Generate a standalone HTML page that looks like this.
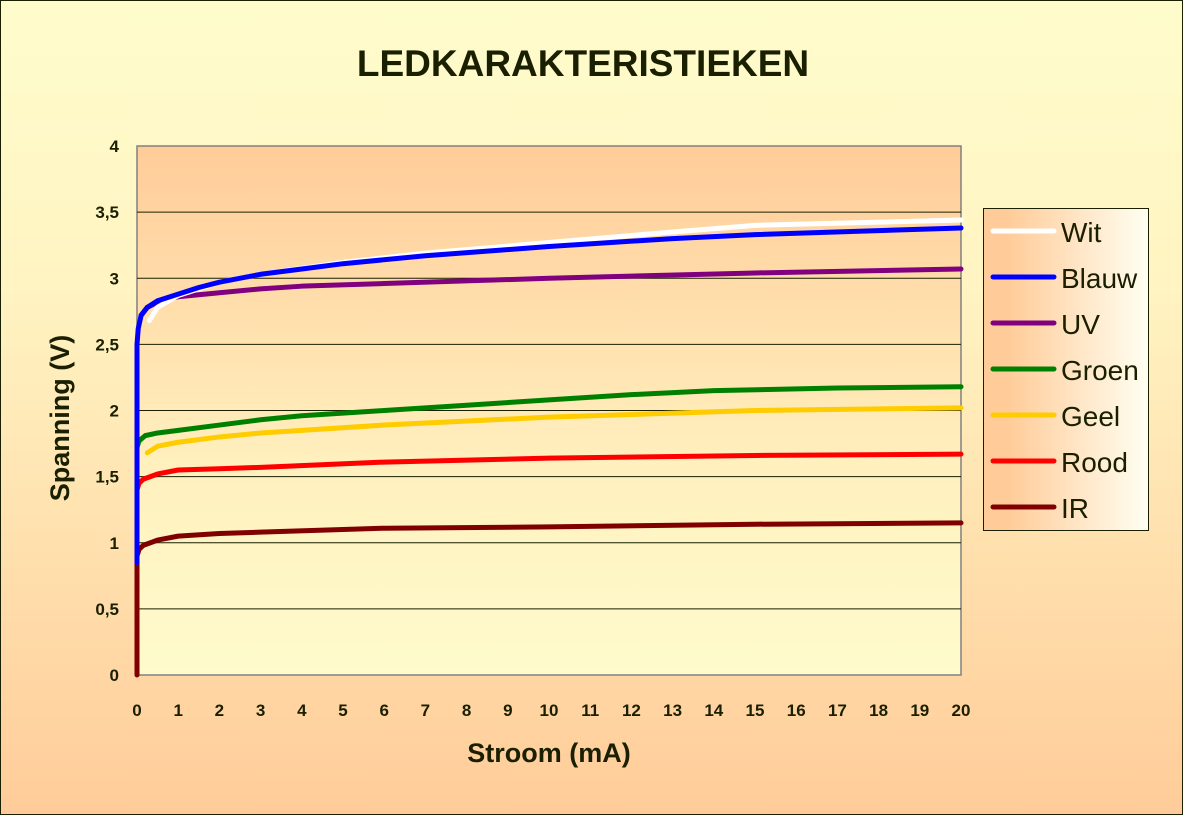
<!DOCTYPE html>
<html><head><meta charset="utf-8"><style>
body{margin:0;width:1183px;height:815px;overflow:hidden;}
svg text{font-family:"Liberation Sans",Arial,sans-serif;fill:#1a1f00;}
</style></head><body>
<svg width="1183" height="815" xmlns="http://www.w3.org/2000/svg">
<defs>
<linearGradient id="bg" x1="0" y1="0" x2="0" y2="1"><stop offset="0" stop-color="#FFFCCC"/><stop offset="0.35" stop-color="#FFF4C2"/><stop offset="1" stop-color="#FFCC99"/></linearGradient>
<linearGradient id="pa" x1="0" y1="0" x2="0" y2="1"><stop offset="0" stop-color="#FFCC99"/><stop offset="0.6" stop-color="#FFF0BE"/><stop offset="1" stop-color="#FFFBCC"/></linearGradient>
<linearGradient id="lg" x1="0" y1="0" x2="1" y2="0"><stop offset="0.15" stop-color="#FFCC99"/><stop offset="1" stop-color="#FFFFF2"/></linearGradient>
</defs>
<rect x="0.5" y="0.5" width="1182" height="814" fill="url(#bg)" stroke="#1a1f00"/>
<text x="583" y="76" font-size="37" font-weight="bold" text-anchor="middle">LEDKARAKTERISTIEKEN</text>
<rect x="137" y="146" width="824" height="529" fill="url(#pa)" stroke="#808080" stroke-width="1.5"/>
<g id="grid"></g><g id="ticks"></g><g id="series"></g>
<text transform="translate(69,418) rotate(-90)" font-size="27" font-weight="bold" text-anchor="middle">Spanning (V)</text>
<text x="549" y="762" font-size="27" font-weight="bold" text-anchor="middle">Stroom (mA)</text>
<rect x="983.5" y="208.5" width="165" height="322" fill="url(#lg)" stroke="#1a1f00"/>
<g id="legend"></g>
</svg>
<script>
const seriesNames=["Wit","Blauw","UV","Groen","Geel","Rood","IR"];
const seriesColors=["#FFFFFF","#0000FF","#800080","#008000","#FFCC00","#FF0000","#800000"];
const witX=[0.3,0.5,1,2,3,5,7,10,13,15,20];
const witY=[2.68,2.78,2.87,2.97,3.03,3.12,3.19,3.27,3.35,3.40,3.44];
const blauwX=[0,0,0.03,0.1,0.25,0.5,1,1.5,2,3,4,5,7,10,13,15,20];
const blauwY=[0.85,2.5,2.62,2.72,2.78,2.83,2.88,2.93,2.97,3.03,3.07,3.11,3.17,3.24,3.30,3.33,3.38];
const uvX=[0.1,0.25,0.5,1,2,3,4,6,10,15,20];
const uvY=[2.72,2.78,2.82,2.86,2.89,2.92,2.94,2.96,3.0,3.04,3.07];
const groenX=[0,0,0.05,0.2,0.5,1,2,3,4,6,8,10,12,14,17,20];
const groenY=[1.4,1.72,1.77,1.81,1.83,1.85,1.89,1.93,1.96,2.0,2.04,2.08,2.12,2.15,2.17,2.18];
const geelX=[0.25,0.5,1,2,3,4,6,10,15,20];
const geelY=[1.68,1.73,1.76,1.8,1.83,1.85,1.89,1.95,2.0,2.02];
const roodX=[0,0,0.05,0.15,0.5,1,2,3,6,10,15,20];
const roodY=[0.9,1.4,1.45,1.48,1.52,1.55,1.56,1.57,1.61,1.64,1.66,1.67];
const irX=[0,0,0.05,0.15,0.5,1,2,3,6,10,15,20];
const irY=[0,0.9,0.95,0.98,1.02,1.05,1.07,1.08,1.11,1.12,1.14,1.15];
const xTicks=[0,1,2,3,4,5,6,7,8,9,10,11,12,13,14,15,16,17,18,19,20];
const yTicks=[0,0.5,1,1.5,2,2.5,3,3.5,4];
const yTickLabels=["0","0,5","1","1,5","2","2,5","3","3,5","4"];
const NS="http://www.w3.org/2000/svg";
const sx=v=>137+v*(824/20), sy=v=>675-v*(529/4);
function mk(t,a,p){const e=document.createElementNS(NS,t);for(const k in a)e.setAttribute(k,a[k]);p.appendChild(e);return e;}
const grid=document.getElementById('grid'),ticks=document.getElementById('ticks');
yTicks.forEach((v,i)=>{
 if(v>0&&v<4){const l=mk('line',{x1:137,x2:961,y1:sy(v),y2:sy(v),stroke:'#1a1f00','stroke-width':1},grid);
 
 }
 const t=mk('text',{x:119,y:sy(v)+6,'font-size':17,'font-weight':'bold','text-anchor':'end'},ticks);t.textContent=yTickLabels[i];
 
 
});
xTicks.forEach(v=>{
 const t=mk('text',{x:sx(v),y:716,'font-size':17,'font-weight':'bold','text-anchor':'middle'},ticks);t.textContent=String(v);
 
 
});
const xs=[witX,blauwX,uvX,groenX,geelX,roodX,irX], ys=[witY,blauwY,uvY,groenY,geelY,roodY,irY];
const order=[6,5,4,3,2,0,1];
const sg=document.getElementById('series');
order.forEach(i=>{
 const pts=xs[i].map((x,j)=>sx(x)+','+sy(ys[i][j])).join(' ');
 const p=mk('polyline',{points:pts,fill:'none',stroke:seriesColors[i],'stroke-width':5,'stroke-linejoin':'round','stroke-linecap':'round'},sg);
 
 
});
const lg=document.getElementById('legend');
seriesNames.forEach((n,i)=>{
 const y=231+i*46;
 const l=mk('line',{x1:993,x2:1054,y1:y,y2:y,stroke:seriesColors[i],'stroke-width':5,'stroke-linecap':'round'},lg);
 
 
 const t=mk('text',{x:1061,y:y+11,'font-size':28},lg);t.textContent=n;
 
 
});
</script>
</body></html>
